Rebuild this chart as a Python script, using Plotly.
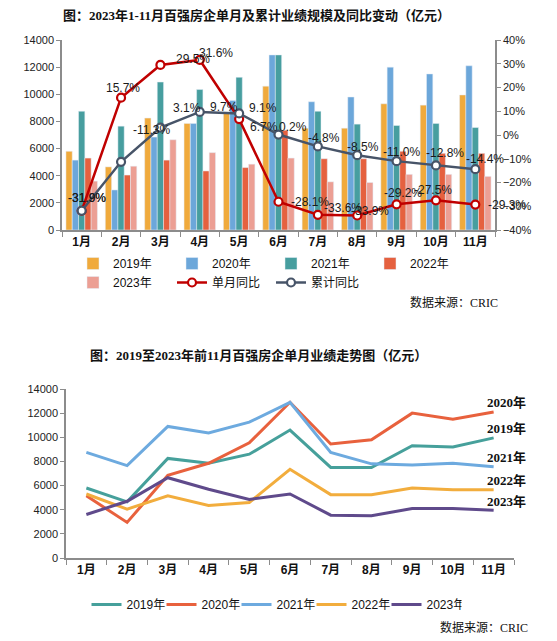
import plotly.graph_objects as go

months = ["1月", "2月", "3月", "4月", "5月", "6月", "7月", "8月", "9月", "10月", "11月"]
years = ["2019年", "2020年", "2021年", "2022年", "2023年"]

# 百强房企单月业绩（亿元）
sales_2019 = [5800, 4650, 8250, 7850, 8600, 10600, 7500, 7500, 9300, 9200, 9950]
sales_2020 = [5150, 2950, 6850, 7850, 9550, 12900, 9450, 9800, 12000, 11500, 12100]
sales_2021 = [8750, 7650, 10900, 10350, 11250, 12900, 8750, 7800, 7700, 7850, 7550]
sales_2022 = [5300, 4050, 5150, 4350, 4600, 7350, 5250, 5250, 5800, 5650, 5650]
sales_2023 = [3600, 4700, 6650, 5700, 4850, 5300, 3550, 3500, 4100, 4100, 3950]

# 同比（%）
single_yoy = [-31.9, 15.7, 29.5, 31.6, 6.7, -28.1, -33.6, -33.9, -29.2, -27.5, -29.3]
cum_yoy = [-31.9, -11.3, 3.1, 9.7, 9.1, 0.2, -4.8, -8.5, -11.0, -12.8, -14.4]

all_sales = [sales_2019, sales_2020, sales_2021, sales_2022, sales_2023]

bar_colors = ["#F0AA3C", "#6CA7DA", "#479E9F", "#E5613F", "#EC9F94"]
line_colors = ["#46A09B", "#E8613D", "#6DAADF", "#F2AD3D", "#5F4A8B"]
red = "#C00000"
slate = "#475468"

# label offsets in px (dx, dy)
single_off = [(5, 13), (2, 10), (33, 6), (16, 7), (25, -8), (31, 0),
              (25, 7), (13, 5), (6, 11), (-3, 10), (32, 0)]
cum_off = [(5, 13), (30, 32), (27, 20), (24, 5), (24, 5), (14, 8),
           (6, 8), (6, 8), (5, 9), (9, 12), (10, 10)]

# page body adds an 8px margin, so the figure is drawn 8px in from the corner
OFF = 8
W, H = 557 - OFF, 641 - OFF
ML, MR = 32, 38
PW = W - ML - MR


def px_x(p):
    return (p - OFF - ML) / PW


def px_y(p):
    return 1 - (p - OFF) / H


sans = "Liberation Sans, Noto Sans CJK SC, sans-serif"
serif = "Liberation Serif, Noto Sans CJK SC, serif"
axis_grey = "#8C8C8C"

fig = go.Figure()

# ---- top chart: bars + yoy lines
for name, vals, color in zip(years, all_sales, bar_colors):
    fig.add_trace(go.Bar(
        x=months, y=vals, name=name, marker_color=color,
        xaxis="x", yaxis="y", legend="legend"
    ))

fig.add_trace(go.Scatter(
    x=months, y=single_yoy, name="单月同比", mode="lines+markers",
    line=dict(color=red, width=2.5),
    marker=dict(symbol="circle", size=8, color="white", line=dict(color=red, width=2.2)),
    xaxis="x", yaxis="y2", legend="legend"
))
fig.add_trace(go.Scatter(
    x=months, y=cum_yoy, name="累计同比", mode="lines+markers",
    line=dict(color=slate, width=2.5),
    marker=dict(symbol="circle", size=8, color="white", line=dict(color=slate, width=2.2)),
    xaxis="x", yaxis="y2", legend="legend"
))

for vals, offs in [(single_yoy, single_off), (cum_yoy, cum_off)]:
    for m, v, (dx, dy) in zip(months, vals, offs):
        fig.add_annotation(
            x=m, y=v, xref="x", yref="y2", text=f"{v:.1f}%", showarrow=False,
            xanchor="center", yanchor="middle", xshift=dx, yshift=dy,
            font=dict(family=sans, size=12, color="#1a1a1a")
        )

# ---- bottom chart: lines
for name, vals, color in zip(years, all_sales, line_colors):
    fig.add_trace(go.Scatter(
        x=months, y=vals, name=name, mode="lines",
        line=dict(color=color, width=3),
        xaxis="x2", yaxis="y3", legend="legend2"
    ))
    fig.add_annotation(
        x=months[-1], y=vals[-1], xref="x2", yref="y3", text=f"<b>{name}</b>",
        showarrow=False, xanchor="center", yanchor="middle", xshift=13, yshift=9,
        font=dict(family=serif, size=13, color="#111")
    )

# titles and source notes
fig.add_annotation(
    x=px_x(256), y=px_y(15), xref="paper", yref="paper", showarrow=False,
    xanchor="center", yanchor="middle",
    text="<b>图：2023年1-11月百强房企单月及累计业绩规模及同比变动（亿元）</b>",
    font=dict(family=serif, size=13, color="#111")
)
fig.add_annotation(
    x=px_x(258), y=px_y(355), xref="paper", yref="paper", showarrow=False,
    xanchor="center", yanchor="middle",
    text="<b>图：2019至2023年前11月百强房企单月业绩走势图（亿元）</b>",
    font=dict(family=serif, size=13, color="#111")
)
fig.add_annotation(
    x=px_x(500), y=px_y(302), xref="paper", yref="paper", showarrow=False,
    xanchor="right", yanchor="middle", text="数据来源：CRIC",
    font=dict(family=serif, size=12, color="#111")
)
fig.add_annotation(
    x=px_x(530), y=px_y(627), xref="paper", yref="paper", showarrow=False,
    xanchor="right", yanchor="middle", text="数据来源：CRIC",
    font=dict(family=serif, size=12, color="#111")
)

tick_font = dict(family=sans, size=11, color="#222")
cat_font = dict(family=sans, size=12, color="#111", weight="bold")

common_x = dict(
    type="category", range=[-0.5, len(months) - 0.5], showline=True,
    linecolor=axis_grey, linewidth=1.5, ticks="outside", tickson="boundaries",
    ticklen=5, tickcolor=axis_grey, tickfont=cat_font, showgrid=False,
    tickangle=0, automargin=False
)
common_y = dict(
    showline=True, linecolor=axis_grey, linewidth=1.5, ticks="outside",
    ticklen=4, tickcolor=axis_grey, tickfont=tick_font, showgrid=False,
    zeroline=False, automargin=False
)

fig.update_layout(
    width=W, height=H,
    margin=dict(l=ML, r=MR, t=0, b=0, autoexpand=False),
    paper_bgcolor="white", plot_bgcolor="white",
    barmode="group", bargap=0.2, bargroupgap=0,
    xaxis=dict(domain=[px_x(62), px_x(495)], anchor="y", **common_x),
    yaxis=dict(
        domain=[px_y(230), px_y(40)], anchor="x", range=[0, 14000],
        tickvals=list(range(0, 14001, 2000)), tickformat="d", **common_y
    ),
    yaxis2=dict(
        overlaying="y", side="right", anchor="x", range=[-40, 40],
        tickvals=list(range(-40, 41, 10)),
        ticktext=[f"{v}%" if v >= 0 else f"\u2212{-v}%" for v in range(-40, 41, 10)],
        **common_y
    ),
    xaxis2=dict(domain=[px_x(66), px_x(514)], anchor="y3", **common_x),
    yaxis3=dict(
        domain=[px_y(558), px_y(389)], anchor="x2", range=[0, 14000],
        tickvals=list(range(0, 14001, 2000)), tickformat="d", **common_y
    ),
    legend=dict(
        orientation="h", x=px_x(73), y=px_y(249), xanchor="left", yanchor="top",
        entrywidth=54, entrywidthmode="pixels",
        font=dict(family=sans, size=12, color="#111"),
        traceorder="normal", bgcolor="rgba(0,0,0,0)", tracegroupgap=0
    ),
    legend2=dict(
        orientation="h", x=px_x(274), y=px_y(590), xanchor="center", yanchor="top",
        entrywidth=30, entrywidthmode="pixels",
        font=dict(family=sans, size=12, color="#111"),
        traceorder="normal", bgcolor="rgba(0,0,0,0)"
    ),
    showlegend=True,
)

fig.write_html("out.html")
